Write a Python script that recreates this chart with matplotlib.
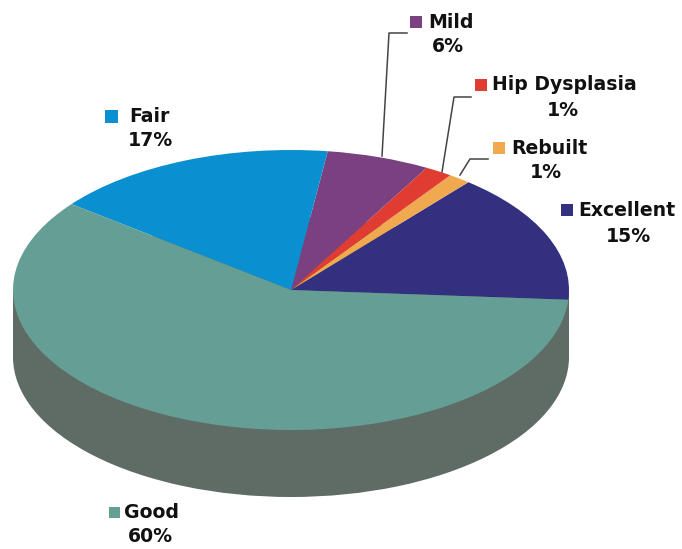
import matplotlib
matplotlib.use('Agg')
import matplotlib.pyplot as plt
from matplotlib.transforms import Affine2D

# counter clockwise from the right edge
names = ['Excellent', 'Rebuilt', 'Hip Dysplasia', 'Mild', 'Fair', 'Good']
values = [15.1, 1.3, 1.6, 6.0, 16.6, 59.4]
percent_labels = ['15%', '1%', '1%', '6%', '17%', '60%']
colors = ['#33307f', '#f0a94e', '#e03c31', '#7a4080', '#0a8fd0', '#659e94']
wall_color = '#5f6b65'

W, H = 682, 549
cx, cy, rx, ry = 291, 290, 278, 140
depth = 67 / ry

fig = plt.figure(figsize=(W / 100, H / 100), dpi=100)
ax = fig.add_axes([0, 0, 1, 1])

# side of the disc: same pie shifted down, joined by a band
ax.pie([1], colors=[wall_color], center=(0, -depth), radius=1, startangle=0)
ax.fill_between([-1, 1], [-depth, -depth], [0, 0], color=wall_color, lw=0)
ax.pie(values, colors=colors, startangle=-4, counterclock=True, radius=1,
	wedgeprops={'linewidth': 0})

ax.set_aspect('auto')
ax.set_xlim(-cx / rx, (W - cx) / rx)
ax.set_ylim((cy - H) / ry, cy / ry)
ax.axis('off')

# anything placed below is in image pixels, y going down
px = Affine2D().scale(1 / W, -1 / H).translate(0, 1) + fig.transFigure

label_font = {'family': 'DejaVu Sans', 'weight': 'bold', 'size': 13.6, 'color': '#111111'}

# name left, name y, percent centre x, percent y, swatch centre x, swatch size
layout = {
	'Excellent': (578, 210, 628, 236, 567, 12),
	'Rebuilt': (511, 148, 546, 173, 499, 12),
	'Hip Dysplasia': (492, 85, 563, 111, 481, 12),
	'Mild': (428, 22, 448, 47, 416, 12),
	'Fair': (129, 116, 150, 141, 111, 13),
	'Good': (124, 512, 150, 537, 114, 11),
}

for name, pct, color in zip(names, percent_labels, colors):
	nx, ny, tx, ty, sx, size = layout[name]
	fig.text(nx, ny, name, transform=px, ha='left', va='center', **label_font)
	fig.text(tx, ty, pct, transform=px, ha='center', va='center', **label_font)
	fig.add_artist(plt.Rectangle((sx - size / 2, ny - size / 2), size, size,
		transform=px, facecolor=color, edgecolor='none'))

# leader lines
leaders = [
	([382, 389, 407], [156, 33, 33]),
	([442, 454, 471], [172, 97, 97]),
	([460, 470, 488], [175, 159, 159]),
]
for xs, ys in leaders:
	fig.add_artist(plt.Line2D(xs, ys, transform=px, color='#444444', lw=1.1))

fig.savefig('out.png', dpi=100)
